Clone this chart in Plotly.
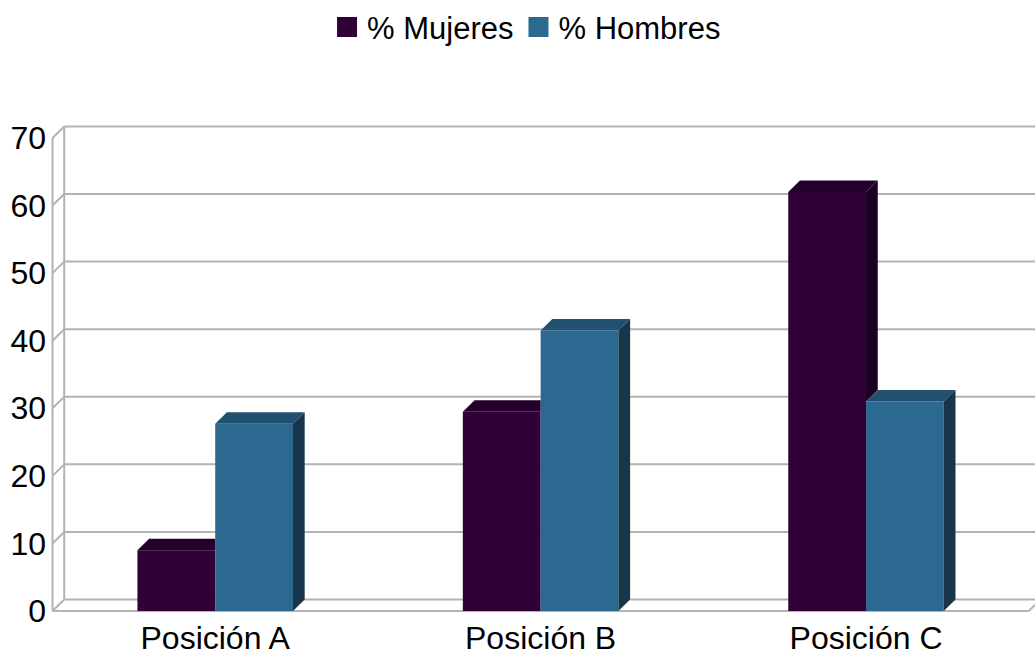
import plotly.graph_objects as go

# Chart data
categories = ["Posición A", "Posición B", "Posición C"]
mujeres = [9, 29.5, 62]
hombres = [27.7, 41.5, 31]
y_ticks = [0, 10, 20, 30, 40, 50, 60, 70]

series_names = ["% Mujeres", "% Hombres"]

# Face colours: front, top, side
MUJ = ("#300036", "#26002c", "#1b0021")
HOM = ("#2c6990", "#215071", "#17364a")
GRID = "#b3b3b3"

# Pseudo-3D geometry (in axis units)
BAR_W = 0.239
DX = 0.036     # depth offset along x
DY = 1.7       # depth offset along y
LEFT = -0.5
RIGHT = 2.5
FONT = "Liberation Sans, Arial, sans-serif"

xs = list(range(len(categories)))

fig = go.Figure()

# Front faces drawn as ordinary bars
fig.add_trace(go.Bar(x=xs, y=mujeres, width=BAR_W, offset=-BAR_W,
                     marker=dict(color=MUJ[0], line=dict(width=0)),
                     showlegend=False, hoverinfo="skip"))
fig.add_trace(go.Bar(x=xs, y=hombres, width=BAR_W, offset=0,
                     marker=dict(color=HOM[0], line=dict(width=0)),
                     showlegend=False, hoverinfo="skip"))


def poly(px, py, color):
    fig.add_trace(go.Scatter(x=px + [px[0]], y=py + [py[0]], mode="lines",
                             fill="toself", fillcolor=color,
                             line=dict(width=0, color=color),
                             showlegend=False, hoverinfo="skip"))


# Top and side faces of the left bar, trimmed where the right bar hides them
for x, vm, vh in zip(xs, mujeres, hombres):
    xl, xr = x - BAR_W, x
    if vm >= vh:
        poly([xl, xl + DX, xr + DX, xr], [vm, vm + DY, vm + DY, vm], MUJ[1])
        poly([xr, xr, xr + DX, xr + DX], [vh, vm, vm + DY, vh + DY], MUJ[2])
    else:
        poly([xl, xl + DX, xr, xr], [vm, vm + DY, vm + DY, vm], MUJ[1])

# Top and side faces of the right bar
for x, vh in zip(xs, hombres):
    xl, xr = x, x + BAR_W
    poly([xl, xl + DX, xr + DX, xr], [vh, vh + DY, vh + DY, vh], HOM[1])
    poly([xr, xr, xr + DX, xr + DX], [0, vh, vh + DY, DY], HOM[2])

# Legend entries
for name, col in zip(series_names, (MUJ[0], HOM[0])):
    fig.add_trace(go.Scatter(x=[None], y=[None], mode="markers", name=name,
                             marker=dict(symbol="square", size=16, color=col,
                                         line=dict(width=4, color=col))))

# Walls, floor and gridlines
shapes = []
line = dict(color=GRID, width=2)
for v in y_ticks:
    shapes.append(dict(type="line", xref="x", yref="y", layer="below",
                       x0=LEFT + DX, x1=RIGHT + 1, y0=v + DY, y1=v + DY, line=line))
    shapes.append(dict(type="line", xref="x", yref="y", layer="below",
                       x0=LEFT, x1=LEFT + DX, y0=v, y1=v + DY, line=line))
shapes.append(dict(type="line", xref="x", yref="y", layer="below",
                   x0=LEFT, x1=LEFT, y0=0, y1=y_ticks[-1], line=line))
shapes.append(dict(type="line", xref="x", yref="y", layer="below",
                   x0=LEFT + DX, x1=LEFT + DX, y0=DY, y1=y_ticks[-1] + DY, line=line))
shapes.append(dict(type="line", xref="x", yref="y", layer="below",
                   x0=LEFT, x1=RIGHT, y0=0, y1=0, line=line))
shapes.append(dict(type="line", xref="x", yref="y", layer="below",
                   x0=RIGHT, x1=RIGHT + DX, y0=0, y1=DY, line=line))

fig.update_layout(
    width=1035, height=657,
    margin=dict(l=50, r=0, t=121, b=44),
    paper_bgcolor="white", plot_bgcolor="white",
    barmode="overlay",
    font=dict(family=FONT, size=32, color="black"),
    shapes=shapes,
    showlegend=True,
    legend=dict(orientation="h", x=0.4838, xanchor="center", y=1.253, yanchor="top",
                font=dict(size=31), itemwidth=30, traceorder="normal",
                bgcolor="rgba(0,0,0,0)"),
    xaxis=dict(range=[-0.5077, 2.5193], tickmode="array", tickvals=xs,
               ticktext=categories, showgrid=False, zeroline=False,
               showline=False, ticks="", tickfont=dict(size=32),
               ticklabelstandoff=3),
    yaxis=dict(range=[-0.294, 72.059], tickmode="array", tickvals=y_ticks,
               showgrid=False, zeroline=False, showline=False, ticks="",
               tickfont=dict(size=32), ticklabelstandoff=3),
)

fig.write_html("out.html")
